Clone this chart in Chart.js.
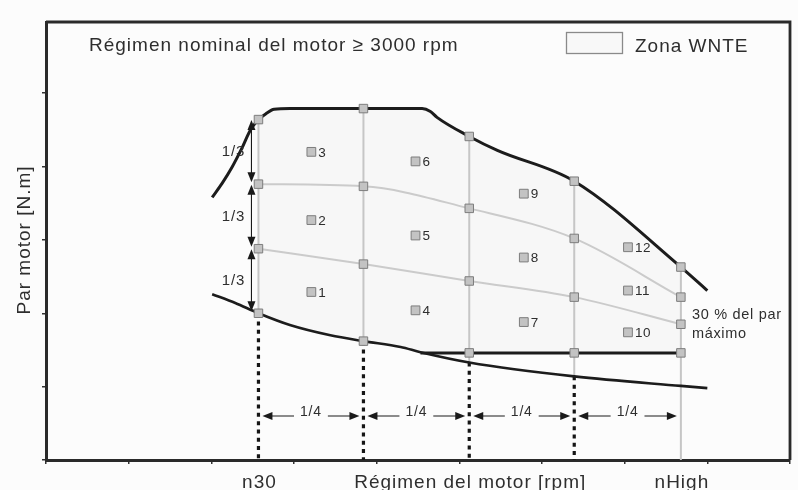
<!DOCTYPE html>
<html><head><meta charset="utf-8">
<script src="https://cdn.jsdelivr.net/npm/chart.js@4/dist/chart.umd.min.js"></script>
<style>html,body{margin:0;padding:0;background:#fcfcfc}#wrap{width:798px;height:490px}</style>
</head><body><div id="wrap"><canvas id="c" width="798" height="490"></canvas></div>
<script>
// ---- data ----
const colX = [2.57, 3.84, 5.12, 6.39, 7.68];
const levelTop = [4.64, 4.79, 4.41, 3.80, 2.63];
const levelUpperMid = [3.76, 3.73, 3.43, 3.02, 2.22];
const levelLowerMid = [2.88, 2.67, 2.44, 2.22, 1.85];
const levelBottom = [2.00, 1.62, 1.46, 1.46, 1.46];
const fullLoadX = [2.01, 2.13, 2.25, 2.37, 2.47, 2.57, 2.66, 2.76, 2.95, 3.84, 4.55, 4.65, 4.73, 5.12, 5.46, 6.39, 7.68, 8.00];
const fullLoadY = [3.58, 3.77, 3.99, 4.25, 4.49, 4.64, 4.72, 4.78, 4.79, 4.79, 4.79, 4.75, 4.67, 4.41, 4.22, 3.80, 2.63, 2.31];
const lowCurveX = [2.01, 2.29, 2.57, 2.95, 3.44, 3.84, 4.29, 4.53, 5.12, 6.39, 7.68, 8.00];
const lowCurveY = [2.26, 2.14, 2.00, 1.84, 1.70, 1.62, 1.54, 1.47, 1.33, 1.14, 1.01, 0.98];
const plateauStartX = 4.53;
const plateauY = 1.46;
const pointNumbers = ['1','2','3','4','5','6','7','8','9','10','11','12'];
const pointX = [3.21, 3.21, 3.21, 4.47, 4.47, 4.47, 5.78, 5.78, 5.78, 7.04, 7.04, 7.04];
const pointY = [2.29, 3.27, 4.20, 2.04, 3.06, 4.07, 1.88, 2.76, 3.63, 1.74, 2.31, 2.90];
const dottedTop = [2.00, 1.62, 1.33, 1.14];
const xTickLabels = ['n30', 'Régimen del motor [rpm]', 'nHigh'];
const xTickLabelCols = [0, 2, 4];
const dimY = 0.6;
const verticalLabel = '1/3';
const horizontalLabel = '1/4';
const titleText = 'Régimen nominal del motor ≥ 3000 rpm';
const legendText = 'Zona WNTE';
const yTitle = 'Par motor [N.m]';
const noteLines = ['30 % del par', 'máximo'];

// ---- build datasets ----
const zip = (xs, ys) => xs.map((x, i) => ({x, y: ys[i]}));
const FONT = '"Liberation Sans", Arial, sans-serif';
const TXT = '#2e2e2e';

const gridPts = [];
colX.forEach((x, i) => {
  [levelTop, levelUpperMid, levelLowerMid, levelBottom].forEach(l => gridPts.push({x, y: l[i]}));
});

const datasets = [];
datasets.push({ data: gridPts, pointStyle: 'rect', pointRadius: 6, backgroundColor: '#c3c3c3', borderColor: '#7d7d7d', borderWidth: 1, showLine: false, order: 0 });
datasets.push({ data: zip(pointX, pointY), pointStyle: 'rect', pointRadius: 6.2, backgroundColor: '#c3c3c3', borderColor: '#7d7d7d', borderWidth: 1, showLine: false, order: 0 });
datasets.push({ data: zip(fullLoadX, fullLoadY), showLine: true, borderColor: '#1c1c1c', borderWidth: 3, pointRadius: 0, cubicInterpolationMode: 'monotone', order: 1 });
datasets.push({ data: zip(lowCurveX, lowCurveY), showLine: true, borderColor: '#1c1c1c', borderWidth: 2.6, pointRadius: 0, cubicInterpolationMode: 'monotone', order: 1 });
datasets.push({ data: [{x: plateauStartX, y: plateauY}, {x: colX[4], y: plateauY}], showLine: true, borderColor: '#1c1c1c', borderWidth: 3, pointRadius: 0, order: 1 });
datasets.push({ data: zip(colX, levelUpperMid), showLine: true, borderColor: '#cbcbcb', borderWidth: 2, pointRadius: 0, cubicInterpolationMode: 'monotone', order: 2 });
datasets.push({ data: zip(colX, levelLowerMid), showLine: true, borderColor: '#cbcbcb', borderWidth: 2, pointRadius: 0, cubicInterpolationMode: 'monotone', order: 2 });
colX.forEach((x, i) => {
  const bottom = i === 4 ? 0 : dottedTop[i];
  datasets.push({ data: [{x, y: levelTop[i]}, {x, y: bottom}], showLine: true, borderColor: '#c6c6c6', borderWidth: 2, pointRadius: 0, order: 2 });
});
dottedTop.forEach((y, i) => {
  datasets.push({ data: [{x: colX[i], y}, {x: colX[i], y: 0}], showLine: true, borderColor: '#151515', borderWidth: 3.2, borderDash: [4, 4.3], pointRadius: 0, order: 3 });
});

function setFont(ctx, size, spacing) {
  ctx.font = size + 'px ' + FONT;
  try { ctx.letterSpacing = (spacing || 0) + 'px'; } catch (e) {}
}
function arrowHead(ctx, x, y, dx, dy, len, w) {
  ctx.beginPath();
  ctx.moveTo(x, y);
  ctx.lineTo(x - dx * len - dy * w / 2, y - dy * len + dx * w / 2);
  ctx.lineTo(x - dx * len + dy * w / 2, y - dy * len - dx * w / 2);
  ctx.closePath();
  ctx.fill();
}

const decor = {
  id: 'decor',
  beforeDatasetsDraw(chart) {
    const {ctx, scales: {x: sx, y: sy}} = chart;
    ctx.save();
    ctx.beginPath();
    const poly = [];
    fullLoadX.forEach((x, i) => { if (x >= colX[0] - 1e-6 && x <= colX[4] + 1e-6) poly.push([x, fullLoadY[i]]); });
    poly.push([colX[4], plateauY]);
    poly.push([plateauStartX, plateauY]);
    for (let i = lowCurveX.length - 1; i >= 0; i--) {
      if (lowCurveX[i] < plateauStartX && lowCurveX[i] >= colX[0] - 1e-6) poly.push([lowCurveX[i], lowCurveY[i]]);
    }
    poly.forEach((p, i) => {
      const px = sx.getPixelForValue(p[0]), py = sy.getPixelForValue(p[1]);
      if (i === 0) ctx.moveTo(px, py); else ctx.lineTo(px, py);
    });
    ctx.closePath();
    ctx.fillStyle = '#f7f7f7';
    ctx.fill();
    ctx.restore();
  },
  afterDatasetsDraw(chart) {
    const {ctx, chartArea: a, scales: {x: sx, y: sy}} = chart;
    ctx.save();
    // frame top/right
    ctx.strokeStyle = '#2a2a2a';
    ctx.lineWidth = 2.8;
    ctx.beginPath();
    ctx.moveTo(a.left, a.top); ctx.lineTo(a.right, a.top); ctx.lineTo(a.right, a.bottom);
    ctx.stroke();

    ctx.fillStyle = TXT;
    // title
    setFont(ctx, 19, 1);
    ctx.textAlign = 'left'; ctx.textBaseline = 'alphabetic';
    ctx.fillText(titleText, 89, 51);
    // legend
    ctx.fillStyle = '#f8f8f8';
    ctx.fillRect(566, 32, 57, 22);
    ctx.strokeStyle = '#8a8a8a'; ctx.lineWidth = 1.3;
    ctx.strokeRect(566.5, 32.5, 56, 21);
    ctx.fillStyle = TXT;
    ctx.fillText(legendText, 635, 51.5);

    // y title
    ctx.save();
    ctx.translate(29.5, 240);
    ctx.rotate(-Math.PI / 2);
    ctx.textAlign = 'center';
    ctx.fillText(yTitle, 0, 0);
    ctx.restore();

    // x labels
    ctx.textAlign = 'center';
    xTickLabels.forEach((t, i) => ctx.fillText(t, sx.getPixelForValue(colX[xTickLabelCols[i]]) + 1, 488));

    // numbered points
    setFont(ctx, 13.5, 0.4);
    ctx.textAlign = 'left'; ctx.textBaseline = 'middle';
    pointNumbers.forEach((t, i) => ctx.fillText(t, sx.getPixelForValue(pointX[i]) + 7, sy.getPixelForValue(pointY[i]) + 1));

    // note
    setFont(ctx, 14.5, 0.7);
    ctx.textBaseline = 'alphabetic';
    const nx = sx.getPixelForValue(colX[4]) + 11;
    ctx.fillText(noteLines[0], nx, 319);
    ctx.fillText(noteLines[1], nx, 338);

    // vertical 1/3 dimension arrows
    ctx.strokeStyle = '#1a1a1a'; ctx.fillStyle = '#1a1a1a';
    const lv = [levelTop[0], levelUpperMid[0], levelLowerMid[0], levelBottom[0]];
    const ax = sx.getPixelForValue(colX[0]) - 7;
    for (let k = 0; k < 3; k++) {
      const yt = sy.getPixelForValue(lv[k]) + 0.5;
      const yb = sy.getPixelForValue(lv[k + 1]) - 2;
      ctx.lineWidth = 1.1;
      ctx.beginPath(); ctx.moveTo(ax, yt + 6); ctx.lineTo(ax, yb - 6); ctx.stroke();
      arrowHead(ctx, ax, yt, 0, -1, 10, 8);
      arrowHead(ctx, ax, yb, 0, 1, 10, 8);
      setFont(ctx, 15, 0.8);
      ctx.fillStyle = TXT;
      ctx.textAlign = 'center'; ctx.textBaseline = 'middle';
      ctx.fillText(verticalLabel, ax - 18, (yt + yb) / 2 + 1);
      ctx.fillStyle = '#1a1a1a';
    }

    // horizontal 1/4 dimension arrows
    const hy = sy.getPixelForValue(dimY);
    setFont(ctx, 14, 0.8);
    for (let i = 0; i < 4; i++) {
      const x1 = sx.getPixelForValue(colX[i]) + 4;
      const x2 = sx.getPixelForValue(colX[i + 1]) - 4;
      const mx = (x1 + x2) / 2;
      const tw = ctx.measureText(horizontalLabel).width;
      ctx.lineWidth = 1.1;
      ctx.beginPath();
      ctx.moveTo(x1 + 6, hy); ctx.lineTo(mx - tw / 2 - 6, hy);
      ctx.moveTo(mx + tw / 2 + 6, hy); ctx.lineTo(x2 - 6, hy);
      ctx.stroke();
      arrowHead(ctx, x1, hy, -1, 0, 10, 8);
      arrowHead(ctx, x2, hy, 1, 0, 10, 8);
      ctx.fillStyle = TXT;
      ctx.textAlign = 'center'; ctx.textBaseline = 'alphabetic';
      ctx.fillText(horizontalLabel, mx, hy + 0.5);
      ctx.fillStyle = '#1a1a1a';
    }
    ctx.restore();
  }
};

new Chart(document.getElementById('c'), {
  type: 'scatter',
  data: { datasets },
  options: {
    responsive: false,
    animation: false,
    devicePixelRatio: 1,
    layout: { padding: { top: 22, right: 8, left: 0, bottom: 0 } },
    plugins: { legend: { display: false }, tooltip: { enabled: false } },
    elements: { line: { borderCapStyle: 'butt' } },
    scales: {
      x: {
        type: 'linear', min: 0, max: 9,
        ticks: { stepSize: 1, display: false },
        grid: { drawOnChartArea: false, drawTicks: true, tickLength: 4, color: '#333', lineWidth: 1.5 },
        border: { display: true, color: '#2a2a2a', width: 3 },
        afterFit(s) { s.height = 30; }
      },
      y: {
        type: 'linear', min: 0, max: 5.97,
        ticks: { stepSize: 1, display: false, includeBounds: false },
        grid: { drawOnChartArea: false, drawTicks: true, tickLength: 4, color: '#333', lineWidth: 1.5 },
        border: { display: true, color: '#2a2a2a', width: 3 },
        afterFit(s) { s.width = 46; }
      }
    }
  },
  plugins: [decor]
});
</script>
</body></html>
